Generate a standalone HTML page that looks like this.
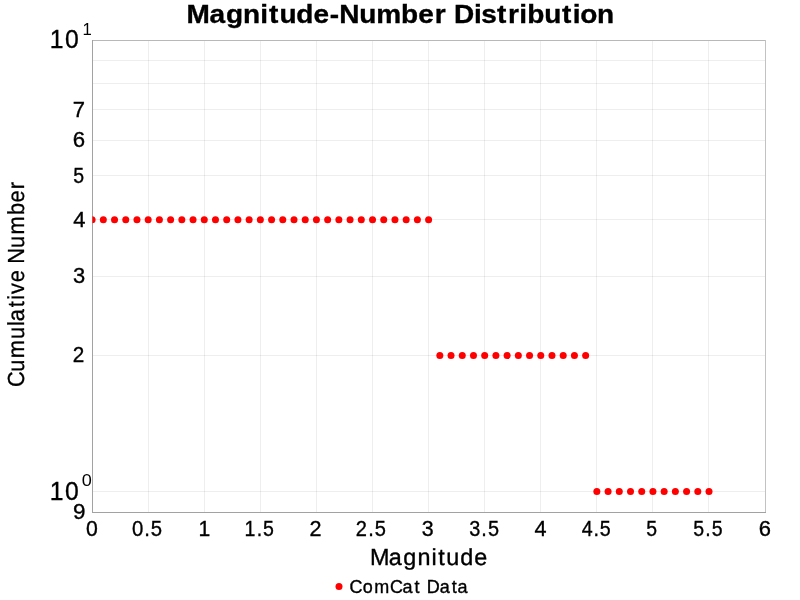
<!DOCTYPE html>
<html lang="en">
<head>
<meta charset="utf-8">
<title>Magnitude-Number Distribution</title>
<style>
html,body{margin:0;padding:0;background:#ffffff;}
body{width:800px;height:600px;overflow:hidden;font-family:"Liberation Sans",sans-serif;}
svg{display:block;will-change:transform;}
svg text{white-space:pre;}
</style>
</head>
<body>
<svg width="800" height="600" viewBox="0 0 800 600" font-family="'Liberation Sans', sans-serif" fill="#000">
<rect x="0" y="0" width="800" height="600" fill="#ffffff"/>
<g fill="rgba(0,0,0,0.065)">
<rect x="148" y="41" width="1" height="471"/>
<rect x="204" y="41" width="1" height="471"/>
<rect x="260" y="41" width="1" height="471"/>
<rect x="316" y="41" width="1" height="471"/>
<rect x="372" y="41" width="1" height="471"/>
<rect x="428" y="41" width="1" height="471"/>
<rect x="484" y="41" width="1" height="471"/>
<rect x="540" y="41" width="1" height="471"/>
<rect x="596" y="41" width="1" height="471"/>
<rect x="652" y="41" width="1" height="471"/>
<rect x="708" y="41" width="1" height="471"/>
<rect x="93" y="60" width="672" height="1"/>
<rect x="93" y="83" width="672" height="1"/>
<rect x="93" y="109" width="672" height="1"/>
<rect x="93" y="140" width="672" height="1"/>
<rect x="93" y="175" width="672" height="1"/>
<rect x="93" y="219" width="672" height="1"/>
<rect x="93" y="276" width="672" height="1"/>
<rect x="93" y="355" width="672" height="1"/>
<rect x="93" y="491" width="672" height="1"/>
</g>
<rect x="92" y="40" width="674" height="1" fill="#b8b8b8"/>
<rect x="765" y="40" width="1" height="473" fill="#c2c2c2"/>
<rect x="92" y="40" width="1" height="473" fill="#a2a2a2"/>
<rect x="92" y="512" width="674" height="1" fill="#a2a2a2"/>
<clipPath id="c"><rect x="92.4" y="40" width="672.6" height="472"/></clipPath>
<g clip-path="url(#c)" fill="#ff0000">
<circle cx="92.10" cy="219.65" r="3.5"/>
<circle cx="103.32" cy="219.65" r="3.5"/>
<circle cx="114.53" cy="219.65" r="3.5"/>
<circle cx="125.75" cy="219.65" r="3.5"/>
<circle cx="136.97" cy="219.65" r="3.5"/>
<circle cx="148.18" cy="219.65" r="3.5"/>
<circle cx="159.40" cy="219.65" r="3.5"/>
<circle cx="170.62" cy="219.65" r="3.5"/>
<circle cx="181.83" cy="219.65" r="3.5"/>
<circle cx="193.05" cy="219.65" r="3.5"/>
<circle cx="204.27" cy="219.65" r="3.5"/>
<circle cx="215.48" cy="219.65" r="3.5"/>
<circle cx="226.70" cy="219.65" r="3.5"/>
<circle cx="237.92" cy="219.65" r="3.5"/>
<circle cx="249.13" cy="219.65" r="3.5"/>
<circle cx="260.35" cy="219.65" r="3.5"/>
<circle cx="271.57" cy="219.65" r="3.5"/>
<circle cx="282.78" cy="219.65" r="3.5"/>
<circle cx="294.00" cy="219.65" r="3.5"/>
<circle cx="305.22" cy="219.65" r="3.5"/>
<circle cx="316.43" cy="219.65" r="3.5"/>
<circle cx="327.65" cy="219.65" r="3.5"/>
<circle cx="338.87" cy="219.65" r="3.5"/>
<circle cx="350.08" cy="219.65" r="3.5"/>
<circle cx="361.30" cy="219.65" r="3.5"/>
<circle cx="372.52" cy="219.65" r="3.5"/>
<circle cx="383.73" cy="219.65" r="3.5"/>
<circle cx="394.95" cy="219.65" r="3.5"/>
<circle cx="406.17" cy="219.65" r="3.5"/>
<circle cx="417.38" cy="219.65" r="3.5"/>
<circle cx="428.60" cy="219.65" r="3.5"/>
<circle cx="439.82" cy="355.62" r="3.5"/>
<circle cx="451.03" cy="355.62" r="3.5"/>
<circle cx="462.25" cy="355.62" r="3.5"/>
<circle cx="473.47" cy="355.62" r="3.5"/>
<circle cx="484.68" cy="355.62" r="3.5"/>
<circle cx="495.90" cy="355.62" r="3.5"/>
<circle cx="507.12" cy="355.62" r="3.5"/>
<circle cx="518.33" cy="355.62" r="3.5"/>
<circle cx="529.55" cy="355.62" r="3.5"/>
<circle cx="540.77" cy="355.62" r="3.5"/>
<circle cx="551.98" cy="355.62" r="3.5"/>
<circle cx="563.20" cy="355.62" r="3.5"/>
<circle cx="574.42" cy="355.62" r="3.5"/>
<circle cx="585.63" cy="355.62" r="3.5"/>
<circle cx="596.85" cy="491.60" r="3.5"/>
<circle cx="608.07" cy="491.60" r="3.5"/>
<circle cx="619.28" cy="491.60" r="3.5"/>
<circle cx="630.50" cy="491.60" r="3.5"/>
<circle cx="641.72" cy="491.60" r="3.5"/>
<circle cx="652.93" cy="491.60" r="3.5"/>
<circle cx="664.15" cy="491.60" r="3.5"/>
<circle cx="675.37" cy="491.60" r="3.5"/>
<circle cx="686.58" cy="491.60" r="3.5"/>
<circle cx="697.80" cy="491.60" r="3.5"/>
<circle cx="709.02" cy="491.60" r="3.5"/>
</g>
<text transform="translate(0,23.00) scale(1.0820,1)" x="172.49 193.56 208.88 224.66 240.54 248.72 258.28 273.86 289.85 304.87 313.57 331.99 347.65 370.66 386.44 401.82 412.04 419.55 438.08 444.88 459.32 469.59 479.99 487.39 502.94 519.51 529.35 536.33 551.70" font-size="25.90" font-weight="bold" stroke="#000" stroke-width="0.35">Magnitude-Number Distribution</text>
<text transform="translate(0,536.00) scale(0.9876,1)" x="87.13" font-size="21.50" stroke="#000" stroke-width="0.35">0</text>
<text transform="translate(0,536.00) scale(0.9450,1)" x="139.79 152.73 159.62" font-size="21.50" stroke="#000" stroke-width="0.35">0.5</text>
<text transform="translate(0,536.00) scale(0.9817,1)" x="202.17" font-size="21.50" stroke="#000" stroke-width="0.35">1</text>
<text transform="translate(0,536.00) scale(0.9090,1)" x="269.08 282.34 289.44" font-size="21.50" stroke="#000" stroke-width="0.35">1.5</text>
<text transform="translate(0,536.00) scale(1.0056,1)" x="307.75" font-size="21.50" stroke="#000" stroke-width="0.35">2</text>
<text transform="translate(0,536.00) scale(0.9337,1)" x="380.93 394.33 401.39" font-size="21.50" stroke="#000" stroke-width="0.35">2.5</text>
<text transform="translate(0,536.00) scale(0.9957,1)" x="423.67" font-size="21.50" stroke="#000" stroke-width="0.35">3</text>
<text transform="translate(0,536.00) scale(0.9259,1)" x="506.77 519.88 526.96" font-size="21.50" stroke="#000" stroke-width="0.35">3.5</text>
<text transform="translate(0,536.00) scale(1.0061,1)" x="531.19" font-size="21.50" stroke="#000" stroke-width="0.35">4</text>
<text transform="translate(0,536.00) scale(0.9147,1)" x="635.89 648.83 655.72" font-size="21.50" stroke="#000" stroke-width="0.35">4.5</text>
<text transform="translate(0,536.00) scale(0.9025,1)" x="715.93" font-size="21.50" stroke="#000" stroke-width="0.35">5</text>
<text transform="translate(0,536.00) scale(0.9078,1)" x="763.56 776.86 784.01" font-size="21.50" stroke="#000" stroke-width="0.35">5.5</text>
<text transform="translate(0,536.00) scale(1.0231,1)" x="741.71" font-size="21.50" stroke="#000" stroke-width="0.35">6</text>
<text transform="translate(0,117.00) scale(1.0232,1)" x="71.15" font-size="21.50" stroke="#000" stroke-width="0.35">7</text>
<text transform="translate(0,147.00) scale(1.0332,1)" x="70.46" font-size="21.50" stroke="#000" stroke-width="0.35">6</text>
<text transform="translate(0,183.00) scale(0.9074,1)" x="80.61" font-size="21.50" stroke="#000" stroke-width="0.35">5</text>
<text transform="translate(0,227.00) scale(1.0199,1)" x="71.84" font-size="21.50" stroke="#000" stroke-width="0.35">4</text>
<text transform="translate(0,283.00) scale(1.0202,1)" x="71.49" font-size="21.50" stroke="#000" stroke-width="0.35">3</text>
<text transform="translate(0,362.00) scale(0.9648,1)" x="75.38" font-size="21.50" stroke="#000" stroke-width="0.35">2</text>
<text transform="translate(0,519.00) scale(1.0422,1)" x="70.07" font-size="21.50" stroke="#000" stroke-width="0.35">9</text>
<text transform="translate(0,48.00) scale(0.9539,1)" x="52.17 68.27" font-size="25.90" stroke="#000" stroke-width="0.35">10</text>
<text transform="translate(0,500.00) scale(0.9539,1)" x="52.17 68.27" font-size="25.90" stroke="#000" stroke-width="0.35">10</text>
<text transform="translate(0,35.00) scale(0.9709,1)" x="84.90" font-size="17.20">1</text>
<text transform="translate(0,486.00) scale(1.0520,1)" x="77.65" font-size="17.20">0</text>
<text transform="translate(0,565.00) scale(1.0060,1)" x="367.89 386.50 400.92 415.04 428.91 435.56 443.62 457.48 471.40" font-size="23.26" stroke="#000" stroke-width="0.35" text-rendering="geometricPrecision">Magnitude</text>
<text transform="translate(24.00,385.20) rotate(-90) scale(0.9389,1)" x="-2.01 14.44 28.76 49.30 63.12 68.06 82.96 90.94 97.13 109.61 122.70 129.30 146.17 160.49 181.22 194.69 208.77" font-size="23.26" stroke="#000" stroke-width="0.3" text-rendering="geometricPrecision">Cumulative Number</text>
<circle cx="339.0" cy="586.5" r="3.5" fill="#ff0000"/>
<text transform="translate(0,593.00) scale(1.0228,1)" x="341.69 354.61 365.97 381.31 393.60 405.36 411.25 417.13 429.91 441.67 447.34" font-size="17.60" stroke="#000" stroke-width="0.35">ComCat Data</text>
</svg>
</body>
</html>
